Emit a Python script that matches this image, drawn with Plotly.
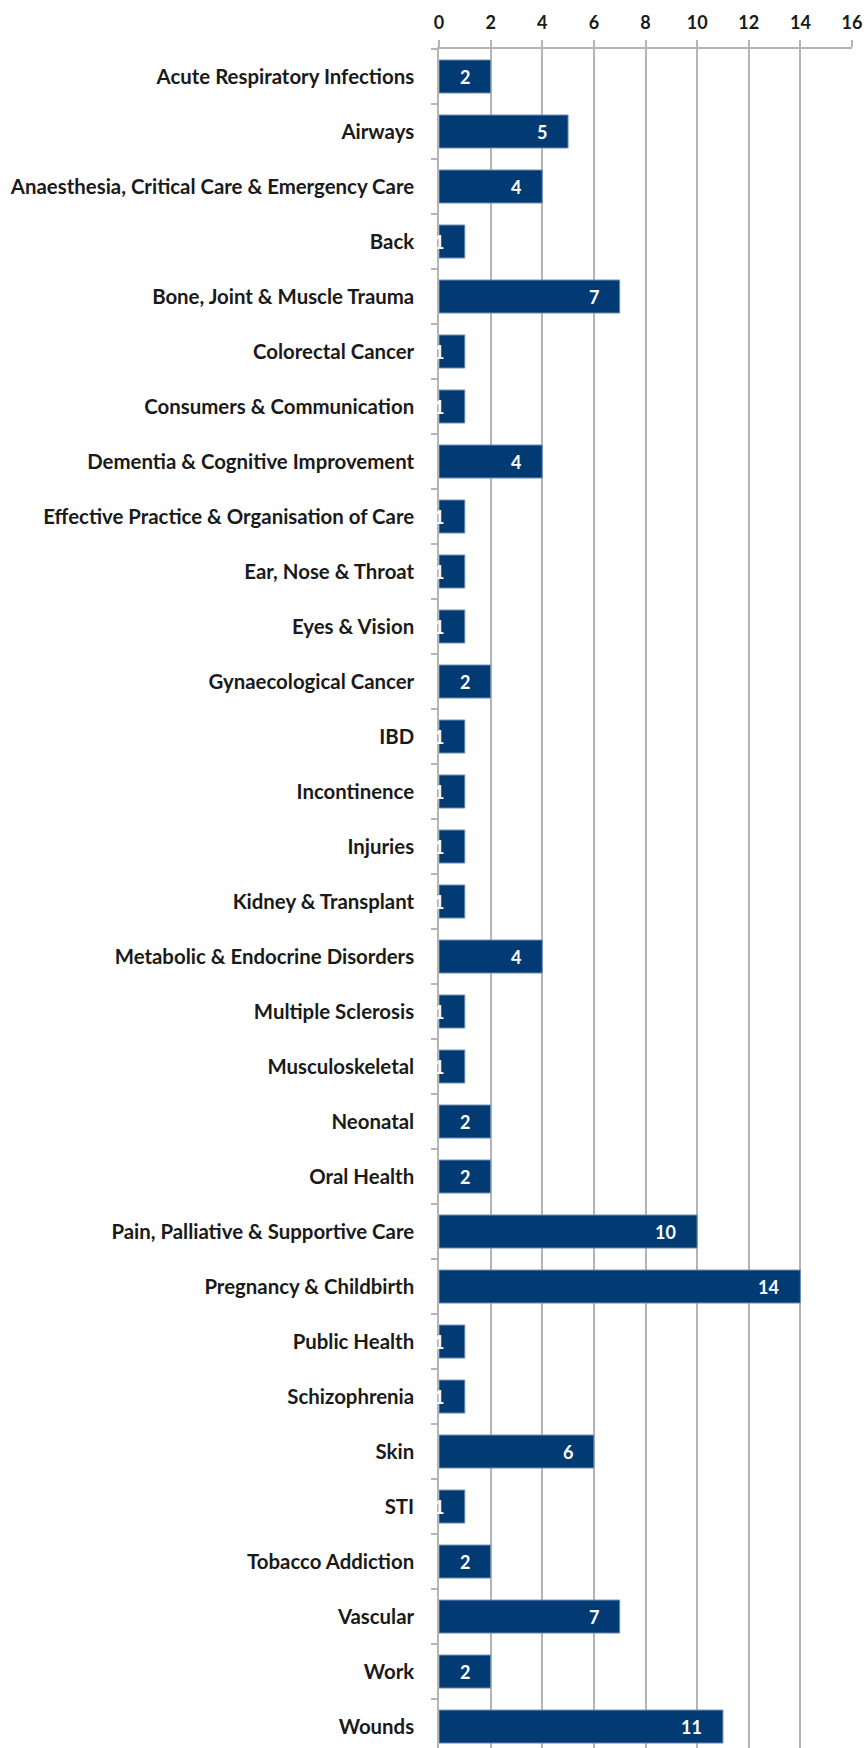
import plotly.graph_objects as go

categories = [
    "Acute Respiratory Infections", "Airways",
    "Anaesthesia, Critical Care & Emergency Care", "Back",
    "Bone, Joint & Muscle Trauma", "Colorectal Cancer",
    "Consumers & Communication", "Dementia & Cognitive Improvement",
    "Effective Practice & Organisation of Care", "Ear, Nose & Throat",
    "Eyes & Vision", "Gynaecological Cancer", "IBD", "Incontinence",
    "Injuries", "Kidney & Transplant", "Metabolic & Endocrine Disorders",
    "Multiple Sclerosis", "Musculoskeletal", "Neonatal", "Oral Health",
    "Pain, Palliative & Supportive Care", "Pregnancy & Childbirth",
    "Public Health", "Schizophrenia", "Skin", "STI", "Tobacco Addiction",
    "Vascular", "Work", "Wounds",
]
values = [2, 5, 4, 1, 7, 1, 1, 4, 1, 1, 1, 2, 1, 1, 1, 1, 4, 1, 1, 2, 2,
          10, 14, 1, 1, 6, 1, 2, 7, 2, 11]
x_ticks = [0, 2, 4, 6, 8, 10, 12, 14, 16]

BAR = "#023b74"
GRID = "#b4b4b4"
FONT = "Lato"

fig = go.Figure()
fig.add_trace(go.Bar(
    x=values, y=categories, orientation="h",
    width=0.6,
    marker=dict(color=BAR, line=dict(color="#6f8fb5", width=1)),
    hoverinfo="x+y",
))

# value labels, placed just inside the end of each bar
for cat, v in zip(categories, values):
    fig.add_annotation(
        x=v, y=cat, text=str(v), showarrow=False,
        xanchor="right", xshift=-19,
        font=dict(family=FONT, size=18, color="white", weight="bold"),
    )

n = len(categories)
fig.update_layout(
    width=866, height=1748,
    margin=dict(l=439, r=14, t=49, b=0, autoexpand=False),
    plot_bgcolor="white", paper_bgcolor="white",
    showlegend=False,
    bargap=0.4,
    xaxis=dict(
        side="top", range=[0, 16], tickvals=x_ticks,
        automargin=False,
        showgrid=True, gridcolor=GRID, gridwidth=1.5,
        showline=True, linecolor=GRID, linewidth=1.5,
        ticks="outside", ticklen=7, tickcolor=GRID, tickwidth=1.5,
        ticklabelstandoff=4,
        zeroline=False,
        tickfont=dict(family=FONT, size=18, color="#1a1a1a", weight="bold"),
    ),
    yaxis=dict(
        categoryorder="array", categoryarray=categories,
        range=[n - 0.61, -0.5],
        automargin=False,
        showline=True, linecolor=GRID, linewidth=1.5,
        ticks="outside", ticklen=6, tickcolor=GRID, tickwidth=1.5,
        tickson="boundaries", ticklabelstandoff=19,
        showgrid=False, zeroline=False,
        tickfont=dict(family=FONT, size=20.4, color="#1a1a1a", weight="bold"),
    ),
)

# the page's default body margin would push the figure 8px right and down
fig.write_html("out.html",
               config={"displayModeBar": False},
               post_script="document.body.style.margin='0';")
